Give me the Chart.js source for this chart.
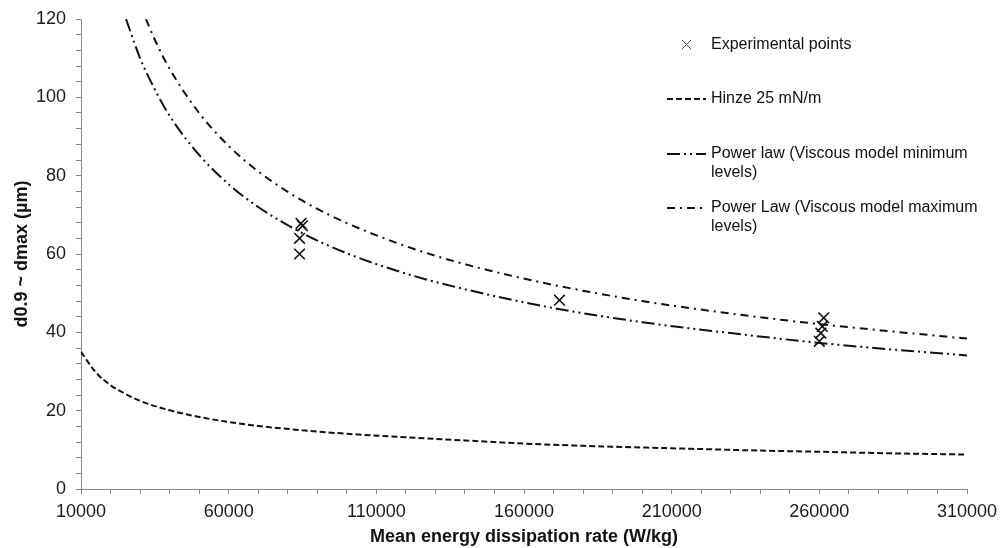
<!DOCTYPE html>
<html>
<head>
<meta charset="utf-8">
<script src="https://cdn.jsdelivr.net/npm/chart.js@4/dist/chart.umd.min.js"></script>
<style>
html, body { margin: 0; padding: 0; background: #fff; }
#wrap { width: 1000px; height: 548px; }
</style>
</head>
<body>
<div id="wrap"><canvas id="dropChart" width="1000" height="548"></canvas></div>
<script>
// values
var hinzeX = [10000, 15000, 20000, 25000, 30000, 40000, 50000, 60000, 70000, 85000, 100000, 120000, 140000, 160000, 185000, 210000, 235000, 260000, 285000, 310000];
var hinzeY = [35, 29.8, 26.5, 24.3, 22.5, 20.1, 18.4, 17.1, 16.1, 15.0, 14.1, 13.2, 12.4, 11.6, 10.9, 10.4, 9.9, 9.5, 9.1, 8.8];

var minX = [25240, 30000, 35000, 40000, 50000, 60000, 70000, 85000, 100000, 120000, 140000, 170000, 200000, 230000, 260000, 285000, 310000];
var minY = [120, 110, 102, 95.3, 85.3, 77.8, 72, 65.3, 60.2, 55, 51, 46.2, 42.6, 39.8, 37.3, 35.6, 34.1];

var maxX = [32000, 35000, 40000, 50000, 60000, 70000, 85000, 100000, 120000, 140000, 170000, 200000, 230000, 260000, 285000, 310000];
var maxY = [120, 114.7, 107.3, 96, 87.6, 81.1, 73.6, 67.9, 62, 57.4, 52.1, 48, 44.8, 42.1, 40.2, 38.4];

var expX = [84500, 85000, 84000, 84000, 172000, 261500, 261000, 260500, 260000];
var expY = [67.8, 67.2, 64, 60, 48.2, 43.7, 41.5, 39.8, 37.7];

var legendLabels = ["Experimental points", "Hinze 25 mN/m", "Power law (Viscous model minimum|levels)", "Power Law (Viscous model maximum|levels)"];

function pts(xs, ys) {
  return xs.map(function (x, i) { return { x: x, y: ys[i] }; });
}

var FONT = "'Liberation Sans', Arial, sans-serif";
var hinzeDash = [6, 3];
var minDash = [13, 4, 2, 4, 2, 4];
var maxDash = [8, 5, 2, 5];

var legendPlugin = {
  id: "boxLegend",
  afterDraw: function (chart) {
    var ctx = chart.ctx;
    ctx.save();
    ctx.font = "16px " + FONT;
    ctx.fillStyle = "#111";
    ctx.textBaseline = "middle";
    var tx = 711;
    var rows = [45, 99, 154, 208];
    // cross marker
    ctx.strokeStyle = "#555";
    ctx.lineWidth = 1;
    ctx.beginPath();
    ctx.moveTo(682, 40); ctx.lineTo(691, 49);
    ctx.moveTo(691, 40); ctx.lineTo(682, 49);
    ctx.stroke();
    var dashes = [null, hinzeDash, minDash, maxDash];
    ctx.strokeStyle = "#111";
    ctx.lineWidth = 2;
    for (var i = 0; i < legendLabels.length; i++) {
      if (dashes[i]) {
        ctx.setLineDash(dashes[i]);
        ctx.beginPath();
        ctx.moveTo(667, rows[i]);
        ctx.lineTo(706, rows[i]);
        ctx.stroke();
        ctx.setLineDash([]);
      }
      var parts = legendLabels[i].split("|");
      for (var j = 0; j < parts.length; j++) {
        ctx.fillText(parts[j], tx, rows[i] + j * 18.5);
      }
    }
    ctx.restore();
  }
};

new Chart(document.getElementById("dropChart"), {
  type: "scatter",
  data: {
    datasets: [
      {
        label: legendLabels[0],
        data: pts(expX, expY),
        pointStyle: "crossRot",
        pointRadius: 7.5,
        pointBorderWidth: 1.6,
        borderColor: "#111",
        backgroundColor: "#111",
        showLine: false
      },
      {
        label: legendLabels[1],
        data: pts(hinzeX, hinzeY),
        showLine: true,
        borderColor: "#111",
        borderWidth: 2,
        borderDash: hinzeDash,
        pointRadius: 0,
        cubicInterpolationMode: "monotone"
      },
      {
        label: legendLabels[2],
        data: pts(minX, minY),
        showLine: true,
        borderColor: "#111",
        borderWidth: 2,
        borderDash: minDash,
        pointRadius: 0,
        cubicInterpolationMode: "monotone"
      },
      {
        label: legendLabels[3],
        data: pts(maxX, maxY),
        showLine: true,
        borderColor: "#111",
        borderWidth: 2,
        borderDash: maxDash,
        pointRadius: 0,
        cubicInterpolationMode: "monotone"
      }
    ]
  },
  options: {
    responsive: false,
    animation: false,
    layout: { padding: { top: 19, right: 33, left: 0, bottom: 0 } },
    plugins: {
      legend: { display: false },
      tooltip: { enabled: false }
    },
    scales: {
      x: {
        type: "linear",
        min: 10000,
        max: 310000,
        afterFit: function (s) { s.height = 59; s.paddingLeft = 0; s.paddingRight = 0; },
        border: { color: "#888", width: 1 },
        grid: { drawOnChartArea: false, drawTicks: true, tickLength: 5, color: "#888" },
        ticks: {
          stepSize: 10000,
          autoSkip: false,
          maxRotation: 0,
          color: "#1a1a1a",
          padding: 7,
          font: { family: FONT, size: 18 },
          callback: function (v) { return (v - 10000) % 50000 === 0 ? String(v) : ""; }
        },
        title: {
          display: true,
          text: "Mean energy dissipation rate (W/kg)",
          color: "#111",
          font: { family: FONT, size: 18, weight: "bold" },
          padding: { top: 0, bottom: 0 }
        }
      },
      y: {
        min: 0,
        max: 120,
        afterFit: function (s) { s.width = 81; s.paddingTop = 0; s.paddingBottom = 0; },
        border: { color: "#888", width: 1 },
        grid: { drawOnChartArea: false, drawTicks: true, tickLength: 5, color: "#888" },
        ticks: {
          stepSize: 4,
          autoSkip: false,
          color: "#1a1a1a",
          padding: 10,
          font: { family: FONT, size: 18 },
          callback: function (v) { return v % 20 === 0 ? String(v) : ""; }
        },
        title: {
          display: true,
          text: "d0.9 ~ dmax (µm)",
          color: "#111",
          font: { family: FONT, size: 18, weight: "bold" },
          padding: { top: 11, bottom: 0 }
        }
      }
    }
  },
  plugins: [legendPlugin]
});
</script>
</body>
</html>
